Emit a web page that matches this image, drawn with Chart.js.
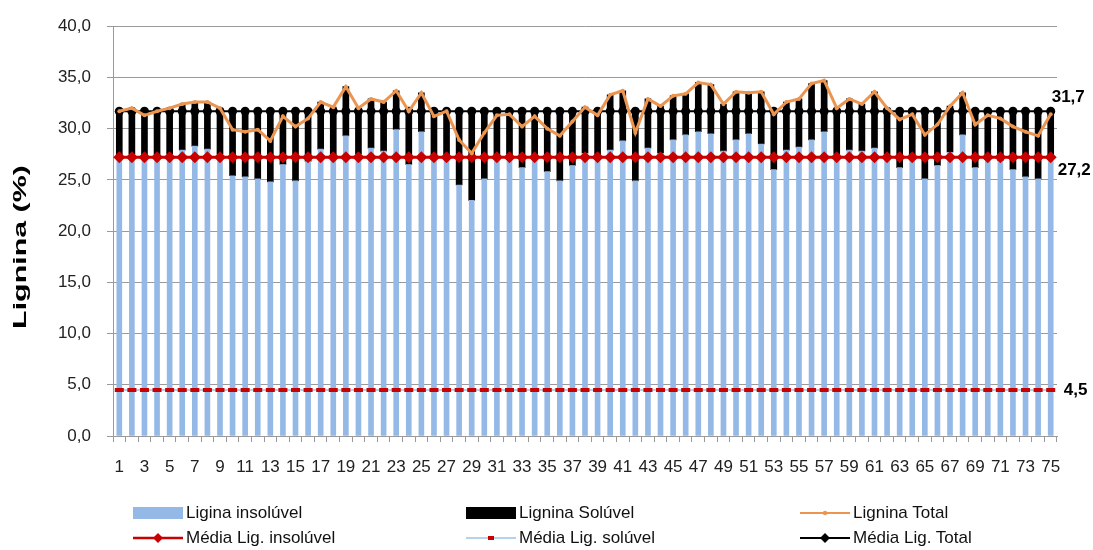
<!DOCTYPE html>
<html lang="pt">
<head>
<meta charset="utf-8">
<title>Lignina</title>
<script src="https://cdn.jsdelivr.net/npm/chart.js@4.4.1/dist/chart.umd.min.js"></script>
<style>
  html, body { margin: 0; padding: 0; background: #fff; }
  #wrap { position: relative; width: 1093px; height: 550px; }
  #grafico { position: absolute; left: 0; top: 0; }
  .leg { position: absolute; display: flex; align-items: center; white-space: nowrap;
         font-family: "Liberation Sans", Arial, sans-serif; font-size: 17px; color: #111; }
  .leg canvas { margin-right: 3px; }
</style>
</head>
<body>
<div id="wrap">
  <canvas id="grafico" width="1093" height="550"></canvas>
  <div class="leg" style="left:133px; top:503px;"><canvas id="lg1" width="50" height="16"></canvas>Ligina insolúvel</div>
  <div class="leg" style="left:466px; top:503px;"><canvas id="lg2" width="50" height="16"></canvas>Lignina Solúvel</div>
  <div class="leg" style="left:800px; top:503px;"><canvas id="lg3" width="50" height="16"></canvas>Lignina Total</div>
  <div class="leg" style="left:133px; top:528px;"><canvas id="lg4" width="50" height="16"></canvas>Média Lig. insolúvel</div>
  <div class="leg" style="left:466px; top:528px;"><canvas id="lg5" width="50" height="16"></canvas>Média Lig. solúvel</div>
  <div class="leg" style="left:800px; top:528px;"><canvas id="lg6" width="50" height="16"></canvas>Média Lig. Total</div>
</div>
<script>
// amostras 1..75
const categorias = Array.from({ length: 75 }, (_, i) => String(i + 1));

// lignina insolúvel (barra azul)
const ligninaInsoluvel = [
  27.2, 27.5, 27.0, 27.2, 27.5, 27.9, 28.3, 28.0, 27.5, 25.4,
  25.3, 25.1, 24.8, 26.5, 24.9, 26.8, 28.0, 27.4, 29.3, 27.5,
  28.1, 27.8, 29.9, 26.5, 29.7, 27.0, 27.2, 24.5, 23.0, 25.1,
  27.0, 27.0, 26.2, 27.0, 25.8, 24.9, 26.4, 27.6, 27.0, 27.9,
  28.8, 24.9, 28.1, 27.6, 28.9, 29.4, 29.7, 29.5, 27.8, 28.9,
  29.5, 28.5, 26.0, 27.9, 28.2, 28.9, 29.7, 27.5, 27.9, 27.8,
  28.1, 27.5, 26.2, 27.0, 25.1, 26.4, 27.7, 29.4, 26.2, 27.0,
  26.9, 26.0, 25.3, 25.1, 27.0
];

// lignina solúvel (barra preta, comprimento)
const ligninaSoluvel = [
  4.5, 4.5, 4.7, 4.5, 4.5, 4.5, 4.3, 4.6, 4.5, 6.3,
  6.4, 6.6, 6.9, 5.2, 6.8, 4.9, 4.6, 4.7, 4.8, 4.5,
  4.8, 4.8, 3.8, 5.2, 3.8, 4.7, 4.5, 7.2, 8.7, 6.6,
  4.7, 4.7, 5.5, 4.7, 5.9, 6.8, 5.3, 4.5, 4.7, 5.4,
  4.9, 6.8, 4.8, 4.6, 4.3, 4.0, 4.8, 4.8, 4.6, 4.7,
  4.0, 5.1, 5.7, 4.7, 4.7, 5.5, 5.0, 4.5, 5.0, 4.6,
  5.5, 4.5, 5.5, 4.7, 6.6, 5.3, 4.5, 4.1, 5.5, 4.7,
  4.8, 5.7, 6.4, 6.6, 4.7
];

// lignina total (linha laranja)
const ligninaTotal = [
  31.7, 32.0, 31.3, 31.7, 32.0, 32.4, 32.6, 32.6, 32.0, 29.9,
  29.7, 29.9, 28.8, 31.2, 30.2, 31.0, 32.6, 32.1, 34.1, 32.0,
  32.9, 32.6, 33.7, 31.7, 33.5, 31.2, 31.7, 28.9, 27.6, 29.6,
  31.3, 31.4, 30.2, 31.2, 30.0, 29.3, 30.7, 32.1, 31.3, 33.3,
  33.7, 29.6, 32.9, 32.2, 33.2, 33.4, 34.5, 34.3, 32.4, 33.6,
  33.5, 33.6, 31.4, 32.6, 32.9, 34.4, 34.7, 32.0, 32.9, 32.4,
  33.6, 32.0, 30.9, 31.4, 29.4, 30.4, 32.2, 33.5, 30.4, 31.3,
  31.0, 30.2, 29.7, 29.3, 31.4
];

// médias
const mediaInsoluvel = 27.2;
const mediaSoluvel = 4.5;
const mediaTotal = 31.7;

// eixo y
const yMin = 0, yMax = 40, yPasso = 5;

const fonte = '"Liberation Sans", Arial, sans-serif';
const corAzul = '#95b9e6';
const corLaranja = '#eb9550';
const corVermelho = '#c80000';
const corLinhaSol = '#9dc3e6';
const corGrade = '#9a9a9a';

const virgula = v => v.toFixed(1).replace('.', ',');

// rótulos das médias no fim das linhas
const rotulosMedias = {
  id: 'rotulosMedias',
  afterDatasetsDraw(chart) {
    const ctx = chart.ctx;
    const x = chart.scales.x.getPixelForValue(categorias.length - 1);
    const y = chart.scales.y;
    ctx.save();
    ctx.font = 'bold 17px ' + fonte;
    ctx.fillStyle = '#000';
    ctx.textBaseline = 'middle';
    ctx.textAlign = 'left';
    ctx.fillText(virgula(mediaTotal), x + 1, y.getPixelForValue(mediaTotal) - 14);
    ctx.fillText(virgula(mediaInsoluvel), x + 7, y.getPixelForValue(mediaInsoluvel) + 13);
    ctx.fillText(virgula(mediaSoluvel), x + 13, y.getPixelForValue(mediaSoluvel));
    ctx.restore();
  }
};

// título do eixo y, esticado no sentido do texto como na figura
const tituloY = {
  id: 'tituloY',
  afterDraw(chart) {
    const ctx = chart.ctx;
    ctx.save();
    ctx.translate(21, 247);
    ctx.rotate(-Math.PI / 2);
    ctx.scale(1.6, 1);
    ctx.font = 'bold 19px ' + fonte;
    ctx.fillStyle = '#000';
    ctx.textAlign = 'center';
    ctx.textBaseline = 'middle';
    ctx.fillText('Lignina (%)', 0, 0);
    ctx.restore();
  }
};

const ctx = document.getElementById('grafico').getContext('2d');
new Chart(ctx, {
  type: 'bar',
  data: {
    labels: categorias,
    datasets: [
      {
        type: 'line', label: 'Lignina Total', data: ligninaTotal,
        borderColor: corLaranja, backgroundColor: corLaranja, borderWidth: 3,
        pointRadius: 2, pointBorderWidth: 0, pointBackgroundColor: corLaranja,
        tension: 0, order: 1
      },
      {
        type: 'line', label: 'Média Lig. Total', data: categorias.map(() => mediaTotal),
        borderColor: '#000', backgroundColor: '#000', borderWidth: 2,
        pointStyle: 'circle', pointRadius: 4.5, pointBorderWidth: 0, pointBackgroundColor: '#000',
        order: 2
      },
      {
        type: 'line', label: 'Média Lig. insolúvel', data: categorias.map(() => mediaInsoluvel),
        borderColor: corVermelho, backgroundColor: corVermelho, borderWidth: 3,
        pointStyle: 'rectRot', pointRadius: 6, pointBorderWidth: 0, pointBackgroundColor: corVermelho,
        order: 3
      },
      {
        type: 'line', label: 'Média Lig. solúvel', data: categorias.map(() => mediaSoluvel),
        borderColor: corLinhaSol, backgroundColor: corLinhaSol, borderWidth: 1.5,
        pointStyle: 'line', pointRadius: 4.5, pointBorderWidth: 4, pointBorderColor: corVermelho,
        order: 4
      },
      {
        label: 'Ligina insolúvel', data: ligninaInsoluvel,
        backgroundColor: corAzul, barThickness: 5, grouped: false, order: 10
      },
      {
        label: 'Lignina Solúvel',
        data: ligninaInsoluvel.map((v, i) => [v, v + ligninaSoluvel[i]]),
        backgroundColor: '#000', barThickness: 6, grouped: false, order: 11
      }
    ]
  },
  options: {
    responsive: false,
    animation: false,
    devicePixelRatio: 1,
    layout: { padding: { top: 20, right: 36, bottom: 74, left: 0 } },
    plugins: {
      legend: { display: false },
      tooltip: { enabled: false }
    },
    scales: {
      x: {
        offset: true,
        afterFit(scale) { scale.height = 40; },
        grid: { offset: true, drawOnChartArea: false, drawTicks: true, tickLength: 6, color: corGrade },
        border: { color: corGrade },
        ticks: {
          autoSkip: false, maxRotation: 0, minRotation: 0, padding: 15,
          color: '#222', font: { family: fonte, size: 17 },
          callback: (v, i) => (i % 2 === 0 ? categorias[i] : '')
        }
      },
      y: {
        min: yMin, max: yMax,
        afterFit(scale) { scale.width = 113; },
        grid: { color: corGrade, tickLength: 6 },
        border: { color: corGrade },
        ticks: {
          stepSize: yPasso, padding: 16, color: '#222',
          font: { family: fonte, size: 17 },
          callback: v => virgula(v)
        }
      }
    }
  },
  plugins: [rotulosMedias, tituloY]
});

// legenda
function amostra(id, desenho) {
  const c = document.getElementById(id).getContext('2d');
  desenho(c);
}
amostra('lg1', c => { c.fillStyle = corAzul; c.fillRect(0, 2, 50, 12); });
amostra('lg2', c => { c.fillStyle = '#000'; c.fillRect(0, 2, 50, 12); });
amostra('lg3', c => {
  c.strokeStyle = corLaranja; c.lineWidth = 2; c.beginPath(); c.moveTo(0, 8); c.lineTo(50, 8); c.stroke();
  c.fillStyle = corLaranja; c.beginPath(); c.arc(25, 8, 2.2, 0, Math.PI * 2); c.fill();
});
amostra('lg4', c => {
  c.strokeStyle = corVermelho; c.lineWidth = 2.5; c.beginPath(); c.moveTo(0, 8); c.lineTo(50, 8); c.stroke();
  c.fillStyle = corVermelho; c.beginPath(); c.moveTo(25, 3); c.lineTo(30, 8); c.lineTo(25, 13); c.lineTo(20, 8); c.closePath(); c.fill();
});
amostra('lg5', c => {
  c.strokeStyle = corLinhaSol; c.lineWidth = 1.5; c.beginPath(); c.moveTo(0, 8); c.lineTo(50, 8); c.stroke();
  c.fillStyle = corVermelho; c.fillRect(22, 6, 6, 4);
});
amostra('lg6', c => {
  c.strokeStyle = '#000'; c.lineWidth = 2; c.beginPath(); c.moveTo(0, 8); c.lineTo(50, 8); c.stroke();
  c.fillStyle = '#000'; c.beginPath(); c.moveTo(25, 3); c.lineTo(30, 8); c.lineTo(25, 13); c.lineTo(20, 8); c.closePath(); c.fill();
});
</script>
</body>
</html>
